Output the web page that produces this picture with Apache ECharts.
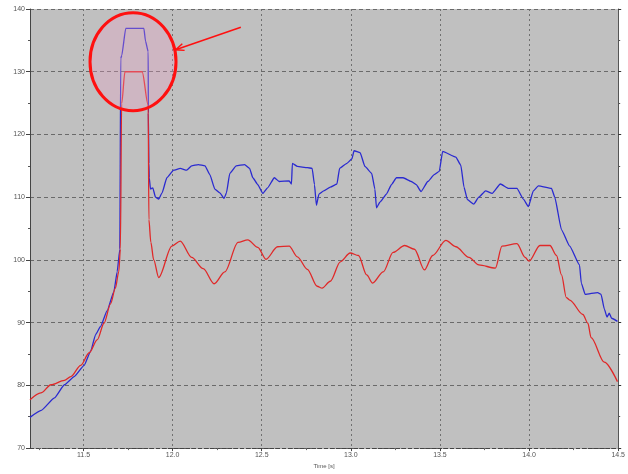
<!DOCTYPE html>
<html>
<head>
<meta charset="utf-8">
<script src="https://cdn.jsdelivr.net/npm/echarts@6/dist/echarts.min.js"></script>
<style>
  html, body { margin: 0; padding: 0; background: #fff; }
  #chart { width: 628px; height: 474px; }
</style>
</head>
<body>
<div id="chart"></div>
<script>
// values
const redTime = [11.2, 11.261, 11.318, 11.393, 11.429, 11.485, 11.532, 11.578, 11.615, 11.652, 11.679, 11.698, 11.707,
  11.714, 11.733, 11.829, 11.863, 11.867, 11.878, 11.894, 11.922, 11.996, 12.043, 12.107, 12.172, 12.233, 12.293,
  12.367, 12.422, 12.478, 12.524, 12.589, 12.654, 12.7, 12.756, 12.811, 12.839, 12.885, 12.941, 12.996, 13.043,
  13.089, 13.122, 13.182, 13.237, 13.302, 13.357, 13.413, 13.459, 13.533, 13.589, 13.663, 13.718, 13.811, 13.848,
  13.932, 13.978, 14.0, 14.061, 14.117, 14.154, 14.182, 14.209, 14.228, 14.302, 14.33, 14.348, 14.422, 14.496];
const redValue = [77.7, 78.8, 80.1, 80.8, 81.4, 83.2, 85.2, 87.3, 89.9, 93.0, 95.5, 98.1, 101.7,
  124.9, 130, 130, 124.7, 106.4, 102.8, 100, 97.2, 102.2, 103.0, 100.4, 98.6, 96.2, 98.1,
  102.8, 103.2, 102.0, 100.1, 102.1, 102.2, 100.5, 98.5, 95.8, 95.5, 96.6, 99.7, 101.1, 100.7,
  97.6, 96.3, 98.1, 101.2, 102.3, 101.7, 98.4, 100.7, 103.1, 102.1, 100.4, 99.2, 98.7, 102.2,
  102.6, 100.4, 99.8, 102.3, 102.3, 100.7, 97.6, 94.0, 93.6, 91.3, 89.9, 87.6, 83.7, 80.6];

const blueTime = [11.2, 11.263, 11.337, 11.393, 11.448, 11.504, 11.541, 11.568, 11.596, 11.633, 11.671, 11.689, 11.704,
  11.709, 11.715, 11.737, 11.839, 11.848, 11.863, 11.864, 11.867, 11.869, 11.876, 11.889, 11.904, 11.922, 11.941,
  11.968, 12.006, 12.043, 12.079, 12.107, 12.144, 12.182, 12.209, 12.237, 12.265, 12.289, 12.302, 12.321, 12.357,
  12.404, 12.432, 12.45, 12.478, 12.506, 12.533, 12.571, 12.598, 12.654, 12.667, 12.672, 12.7, 12.756, 12.783,
  12.796, 12.807, 12.821, 12.848, 12.885, 12.922, 12.937, 12.978, 13.006, 13.018, 13.052, 13.079, 13.117, 13.135,
  13.144, 13.163, 13.2, 13.228, 13.256, 13.293, 13.339, 13.367, 13.394, 13.432, 13.468, 13.496, 13.515, 13.589,
  13.617, 13.635, 13.654, 13.69, 13.718, 13.756, 13.793, 13.839, 13.885, 13.932, 13.968, 13.996, 14.024, 14.052,
  14.126, 14.144, 14.182, 14.228, 14.283, 14.293, 14.315, 14.385, 14.404, 14.422, 14.437, 14.45, 14.463, 14.496];
const blueValue = [74.9, 76.0, 78.0, 80.1, 81.4, 83.2, 85.5, 88.1, 89.4, 91.9, 95.0, 98.1, 101.7,
  132.1, 132.6, 136.9, 136.9, 134.9, 133.2, 123.4, 115.4, 113.1, 111.3, 111.5, 110.0, 109.7, 110.7,
  113.1, 114.3, 114.6, 114.3, 115.0, 115.2, 115.0, 113.6, 111.3, 110.7, 109.8, 110.7, 113.8, 115.0,
  115.2, 114.6, 113.1, 112.0, 110.6, 111.5, 113.1, 112.5, 112.6, 112.1, 115.4, 114.9, 114.7, 114.6,
  112.0, 108.7, 110.5, 111.0, 111.6, 112.1, 114.6, 115.4, 116.1, 117.4, 117.1, 114.9, 113.8, 111.3,
  108.3, 109.2, 110.5, 112.0, 113.1, 113.1, 112.5, 112.0, 110.9, 112.5, 113.6, 114.1, 117.3, 116.4,
  115.1, 111.6, 109.6, 108.9, 110.0, 111.0, 110.6, 112.1, 111.4, 111.4, 109.7, 108.5, 111.0, 111.8,
  111.4, 110.0, 104.8, 102.2, 99.2, 96.3, 94.5, 94.8, 94.5, 92.2, 90.9, 91.5, 90.7, 90.2];

const xTicks = [11.5, 12.0, 12.5, 13.0, 13.5, 14.0, 14.5];
const xMinorTicks = [11.25, 11.75, 12.25, 12.75, 13.25, 13.75, 14.25];

const chart = echarts.init(document.getElementById('chart'));

const labelStyle = { fontSize: 7, color: '#555', fontFamily: 'Liberation Sans' };

const option = {
  animation: false,
  backgroundColor: '#fff',
  grid: {
    left: 30, right: 4, top: 9, bottom: 12,
    show: true, backgroundColor: '#c0c0c0', borderWidth: 0
  },
  xAxis: [
    {
      type: 'value', min: 11.2, max: 14.5,
      name: 'Time [s]', nameLocation: 'middle', nameGap: 11,
      nameTextStyle: { fontSize: 6, color: '#555' },
      axisLine: { onZero: false, lineStyle: { color: '#444', type: 'dashed', width: 1 } },
      axisTick: { customValues: xTicks, length: 3, lineStyle: { color: '#444' } },
      axisLabel: Object.assign({ customValues: xTicks, margin: 3, formatter: v => v.toFixed(1) }, labelStyle),
      splitLine: { show: true, lineStyle: { color: '#707070', type: [2, 3], width: 1 } }
    },
    {
      type: 'value', min: 11.2, max: 14.5, position: 'bottom',
      axisLine: { show: false },
      axisTick: { customValues: xMinorTicks, length: 2, lineStyle: { color: '#666' } },
      axisLabel: { show: false },
      splitLine: { show: false }
    }
  ],
  yAxis: [
    {
      type: 'value', min: 70, max: 140, interval: 10,
      axisLine: { show: true, lineStyle: { color: '#444', width: 1 } },
      axisTick: { show: true, length: 4, lineStyle: { color: '#444' } },
      minorTick: { show: true, splitNumber: 2, length: 2, lineStyle: { color: '#555' } },
      axisLabel: Object.assign({ margin: 5 }, labelStyle),
      splitLine: { show: true, lineStyle: { color: '#6a6a6a', type: [4, 3], width: 1 } }
    },
    {
      type: 'value', min: 70, max: 140, interval: 10, position: 'right',
      axisLine: { show: true, lineStyle: { color: '#555', width: 1 } },
      axisTick: { show: true, length: 3, lineStyle: { color: '#333' } },
      minorTick: { show: true, splitNumber: 2, length: 2, lineStyle: { color: '#555' } },
      axisLabel: { show: false },
      splitLine: { show: false }
    }
  ],
  series: [
    {
      name: 'red', type: 'line', showSymbol: false, symbol: 'none',
      smooth: 0.3, smoothMonotone: 'x',
      lineStyle: { color: '#e02828', width: 1.3 },
      data: redTime.map((t, i) => [t, redValue[i]]),
      z: 3
    },
    {
      name: 'blue', type: 'line', showSymbol: false, symbol: 'none',
      smooth: 0.15, smoothMonotone: 'x',
      lineStyle: { color: '#2a2ad0', width: 1.3 },
      data: blueTime.map((t, i) => [t, blueValue[i]]),
      z: 2
    }
  ]
};
chart.setOption(option);

// annotation: circle round the peak + pointer arrow
const c = chart.convertToPixel({ gridIndex: 0 }, [11.778, 131.6]);
const edge = chart.convertToPixel({ gridIndex: 0 }, [12.017, 133.5]);
const tail = chart.convertToPixel({ gridIndex: 0 }, [12.383, 137.1]);
const dx = edge[0] - tail[0], dy = edge[1] - tail[1];
const len = Math.sqrt(dx * dx + dy * dy);
const ux = dx / len, uy = dy / len;
const headLen = 9, spread = 0.4;
const h1 = [edge[0] - headLen * (ux * Math.cos(spread) - uy * Math.sin(spread)),
            edge[1] - headLen * (uy * Math.cos(spread) + ux * Math.sin(spread))];
const h2 = [edge[0] - headLen * (ux * Math.cos(-spread) - uy * Math.sin(-spread)),
            edge[1] - headLen * (uy * Math.cos(-spread) + ux * Math.sin(-spread))];

chart.setOption({
  graphic: [
    {
      type: 'ellipse', z: 100,
      shape: { cx: c[0], cy: c[1], rx: 43, ry: 49 },
      style: { fill: 'rgba(240,160,200,0.3)', stroke: '#ff1010', lineWidth: 3 }
    },
    {
      type: 'line', z: 100,
      shape: { x1: tail[0], y1: tail[1], x2: edge[0], y2: edge[1] },
      style: { stroke: '#ff1010', lineWidth: 1.5 }
    },
    {
      type: 'polyline', z: 100,
      shape: { points: [h1, edge, h2] },
      style: { stroke: '#ff1010', lineWidth: 1.5, fill: null }
    }
  ]
});
</script>
</body>
</html>
